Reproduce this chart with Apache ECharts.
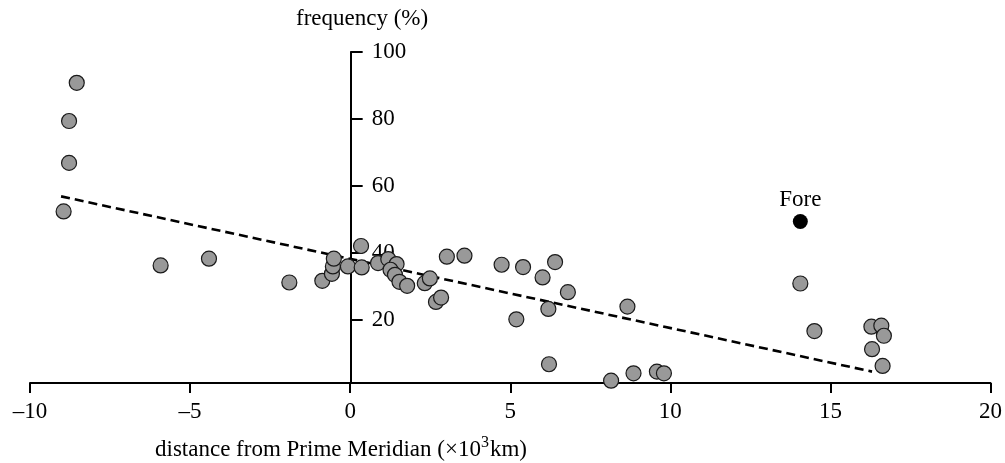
<!DOCTYPE html>
<html>
<head>
<meta charset="utf-8">
<script src="https://cdn.jsdelivr.net/npm/echarts@6/dist/echarts.min.js"></script>
<style>html,body{margin:0;padding:0;background:#fff;}#c{width:1005px;height:463px;}</style>
</head>
<body>
<div id="c"></div>
<script>
// distance from Prime Meridian (x10^3 km)
const distX = [-8.54, -8.78, -8.78, -8.95, -5.92, -4.41, -1.90, -0.87, -0.57, -0.54, -0.51,
  -0.07, 0.34, 0.36, 0.87, 1.19, 1.45, 1.26, 1.40, 1.54, 1.78, 2.33, 2.49, 2.68, 2.84, 3.02,
  3.57, 4.73, 5.40, 6.01, 6.40, 6.80, 6.19, 5.19, 6.21, 8.15, 8.85, 9.58, 9.80, 8.66,
  14.06, 14.50, 16.28, 16.59, 16.67, 16.30, 16.63];
// frequency (%)
const freqY = [90.8, 79.4, 66.9, 52.4, 36.3, 38.3, 31.2, 31.7, 33.8, 36.0, 38.3,
  36.0, 42.1, 35.7, 37.0, 38.2, 36.7, 35.0, 33.5, 31.4, 30.2, 31.0, 32.4, 25.4, 26.7, 38.9,
  39.2, 36.5, 35.8, 32.7, 37.3, 28.3, 23.3, 20.2, 6.8, 1.9, 4.1, 4.6, 4.1, 24.0,
  30.9, 16.7, 18.0, 18.3, 15.3, 11.3, 6.3];
const foreX = [14.06];
const foreY = [49.4];
const foreName = 'Fore';
const trendX = [-9.03, 16.30];
const trendY = [56.9, 4.6];
const yTicks = [20, 40, 60, 80, 100];
const xTitle = 'distance from Prime Meridian (×10';
const yTitle = 'frequency (%)';

const font = 'Liberation Serif';
const gridLeft = 30, gridRight = 13;
const xMin = -10, xMax = 20;
const plotW = 1005 - gridLeft - gridRight;
const yAxisOffset = -plotW * (0 - xMin) / (xMax - xMin); // place y axis at x = 0

const chart = echarts.init(document.getElementById('c'), null, {renderer: 'canvas'});
chart.setOption({
  animation: false,
  backgroundColor: '#fff',
  grid: {left: gridLeft, right: gridRight, top: 52, bottom: 80, containLabel: false},
  xAxis: {
    type: 'value', min: xMin, max: xMax, interval: 5,
    axisLine: {onZero: false, lineStyle: {color: '#000', width: 2}},
    axisTick: {show: true, length: 10, lineStyle: {color: '#000', width: 2}},
    axisLabel: {
      color: '#000', fontFamily: font, fontSize: 23, margin: 17,
      formatter: v => (v < 0 ? '\u2013' + Math.abs(v) : String(v))
    },
    splitLine: {show: false}
  },
  yAxis: {
    type: 'value', min: 1.2, max: 100, position: 'left', offset: yAxisOffset,
    axisLine: {show: true, onZero: false, lineStyle: {color: '#000', width: 2}},
    axisTick: {show: true, inside: true, length: 12, customValues: yTicks, lineStyle: {color: '#000', width: 2}},
    axisLabel: {
      show: true, inside: true, margin: 21, color: '#000', fontFamily: font, fontSize: 23,
      customValues: yTicks
    },
    splitLine: {show: false}
  },
  graphic: [
    {type: 'text', left: 296, top: 7, style: {text: yTitle, font: '23px "Liberation Serif"', fill: '#000'}},
    {type: 'text', left: 155, top: 435,
      style: {
        text: '{a|' + xTitle + '}{s|3}{a|km)}',
        fill: '#000',
        rich: {
          a: {fontFamily: font, fontSize: 23, lineHeight: 26, verticalAlign: 'bottom'},
          s: {fontFamily: font, fontSize: 16, lineHeight: 26, verticalAlign: 'top', padding: [0, 1, 0, 0]}
        }
      }
    }
  ],
  series: [
    {
      type: 'line',
      data: trendX.map((x, i) => [x, trendY[i]]),
      symbol: 'none',
      lineStyle: {color: '#000', width: 2.6, type: [9, 5]},
      silent: true, z: 1
    },
    {
      type: 'scatter',
      data: distX.map((x, i) => [x, freqY[i]]),
      symbol: 'circle', symbolSize: 15,
      itemStyle: {color: '#999999', borderColor: '#1a1a1a', borderWidth: 1.2, opacity: 1},
      z: 3
    },
    {
      type: 'scatter',
      data: foreX.map((x, i) => [x, foreY[i]]),
      symbol: 'circle', symbolSize: 15,
      itemStyle: {color: '#000', opacity: 1},
      label: {show: true, position: 'top', distance: 3, formatter: foreName, color: '#000', fontFamily: font, fontSize: 23},
      z: 4
    }
  ]
});
</script>
</body>
</html>
